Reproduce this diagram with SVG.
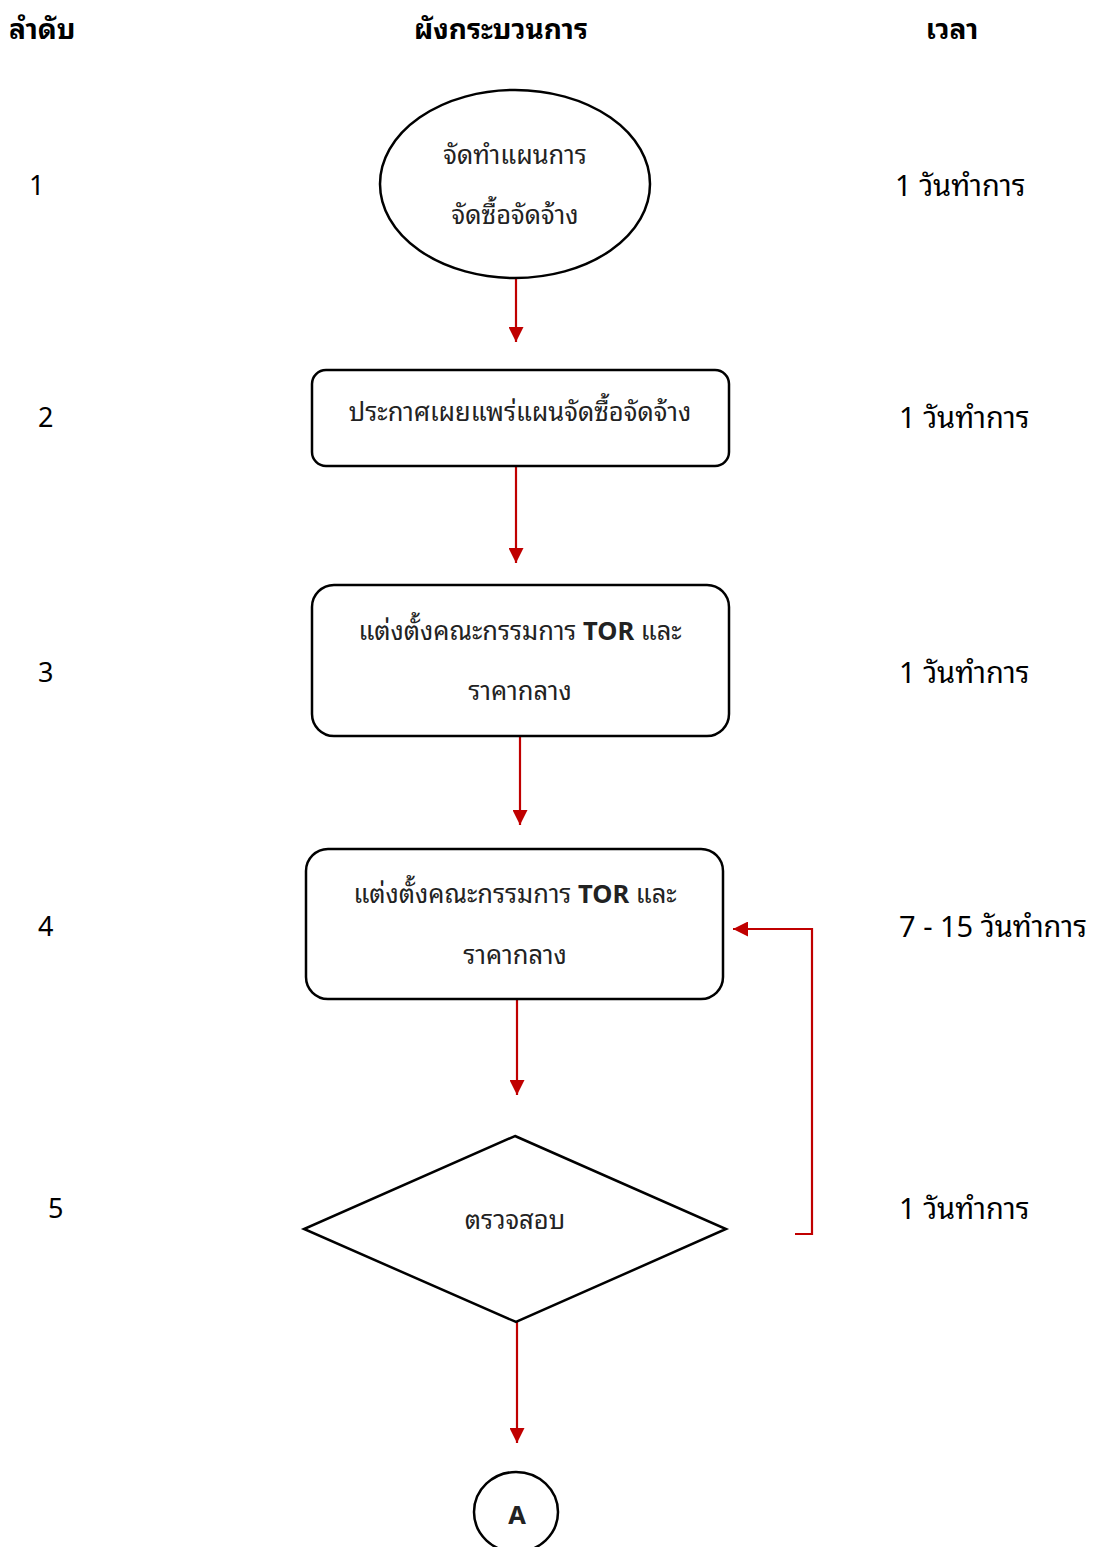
<svg xmlns="http://www.w3.org/2000/svg" width="1097" height="1547" viewBox="0 0 1097 1547">
<defs>
<style>
text{font-family:"Noto Sans Thai Looped","Noto Sans Thai","Leelawadee UI",Tahoma,"Noto Sans","DejaVu Sans",sans-serif;fill:#000;}
.hdr{font-size:28px;font-weight:bold;}
.num{font-size:27px;}
.tm{font-size:29px;}
.lbl{font-size:25.5px;text-anchor:middle;fill:#222;}
.shape{fill:#fff;stroke:#000;stroke-width:2.5;}
.conn{fill:none;stroke:#c00000;stroke-width:2.2;}
</style>
<marker id="ah" viewBox="0 0 10 10" refX="10" refY="5" markerWidth="15" markerHeight="15" markerUnits="userSpaceOnUse" orient="auto">
<path d="M0,0 L10,5 L0,10 z" fill="#c00000"/>
</marker>
</defs>
<rect width="1097" height="1547" fill="#fff"/>
<g id="headers">
<text class="hdr" x="9" y="39">ลำดับ</text>
<text class="hdr" x="501" y="39" text-anchor="middle">ผังกระบวนการ</text>
<text class="hdr" x="952" y="39" text-anchor="middle">เวลา</text>
</g>
<g id="order">
<text class="num" x="29" y="195">1</text>
<text class="num" x="38" y="427">2</text>
<text class="num" x="38" y="682">3</text>
<text class="num" x="38" y="936">4</text>
<text class="num" x="48" y="1218">5</text>
</g>
<g id="times">
<text class="tm" x="895" y="196">1 วันทำการ</text>
<text class="tm" x="899" y="428">1 วันทำการ</text>
<text class="tm" x="899" y="683">1 วันทำการ</text>
<text class="tm" x="899" y="937">7 - 15 วันทำการ</text>
<text class="tm" x="899" y="1219">1 วันทำการ</text>
</g>
<g id="connectors">
<line class="conn" x1="516" y1="279" x2="516" y2="342" marker-end="url(#ah)"/>
<line class="conn" x1="516" y1="467" x2="516" y2="563" marker-end="url(#ah)"/>
<line class="conn" x1="520" y1="736" x2="520" y2="825" marker-end="url(#ah)"/>
<line class="conn" x1="517" y1="1000" x2="517" y2="1095" marker-end="url(#ah)"/>
<line class="conn" x1="517" y1="1322" x2="517" y2="1443" marker-end="url(#ah)"/>
<polyline class="conn" points="795,1234 812,1234 812,929 733,929" marker-end="url(#ah)"/>
</g>
<g id="node1">
<ellipse class="shape" cx="515" cy="184" rx="135" ry="94"/>
<text class="lbl" x="515" y="164">จัดทำแผนการ</text>
<text class="lbl" x="515" y="224">จัดซื้อจัดจ้าง</text>
</g>
<g id="node2">
<rect class="shape" x="312" y="370" width="417" height="96" rx="14"/>
<text class="lbl" x="520" y="421">ประกาศเผยแพร่แผนจัดซื้อจัดจ้าง</text>
</g>
<g id="node3">
<rect class="shape" x="312" y="585" width="417" height="151" rx="22"/>
<text class="lbl" x="520" y="640">แต่งตั้งคณะกรรมการ <tspan font-weight="bold">TOR</tspan> และ</text>
<text class="lbl" x="520" y="700">ราคากลาง</text>
</g>
<g id="node4">
<rect class="shape" x="306" y="849" width="417" height="150" rx="22"/>
<text class="lbl" x="515" y="903">แต่งตั้งคณะกรรมการ <tspan font-weight="bold">TOR</tspan> และ</text>
<text class="lbl" x="515" y="964">ราคากลาง</text>
</g>
<g id="node5">
<polygon class="shape" points="515,1136 726,1229 516,1322 304,1229"/>
<text class="lbl" x="515" y="1229">ตรวจสอบ</text>
</g>
<g id="nodeA">
<ellipse class="shape" cx="516" cy="1512" rx="42" ry="40"/>
<text class="lbl" x="517" y="1524" font-weight="bold">A</text>
</g>
</svg>
